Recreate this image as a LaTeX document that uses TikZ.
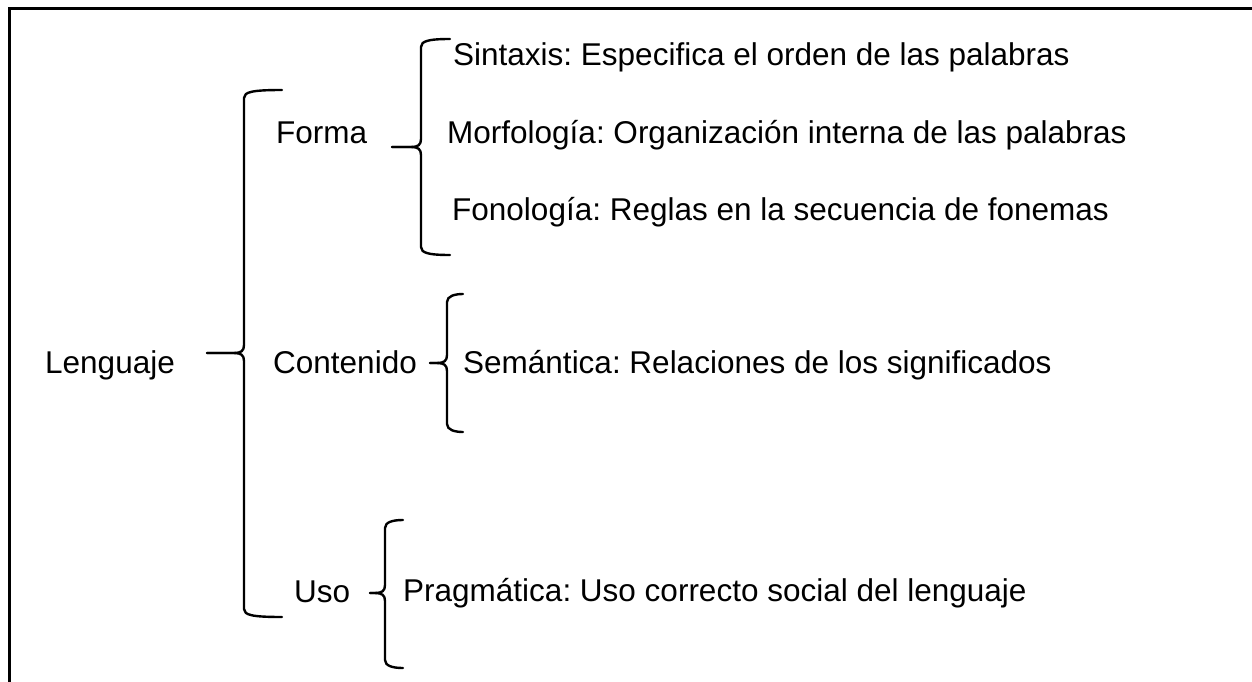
\documentclass[tikz,border=0pt]{standalone}
\usepackage{fontspec}
\setmainfont{Liberation Sans}
\frenchspacing
\tikzset{
  brc/.style={line width=2.4pt, line cap=round, line join=round},
  lbl/.style={anchor=base west, inner sep=0pt, font=\fontsize{31.5}{36}\selectfont},
  frame/.style={line width=3pt}
}
\newcommand\mybrace[7]{% name, x vertical, y top, y mid, y bottom, x tip, x end
  \coordinate (#1) at (#6,#4);
  \draw[brc] (#7,#3) .. controls ({#2+8},#3) and (#2,{#3+2}) .. (#2,{#3+8})
     -- (#2,{#4-8}) .. controls (#2,{#4-2}) and ({#2-3},#4) .. ({#2-10},#4) -- (#1);
  \draw[brc] (#1) -- ({#2-10},#4) .. controls ({#2-3},#4) and (#2,{#4+2}) .. (#2,{#4+8})
     -- (#2,{#5-8}) .. controls (#2,{#5-2}) and ({#2+8},#5) .. (#7,#5);
}
\begin{document}
\begin{tikzpicture}[x=1pt,y=-1pt]
\useasboundingbox (0,0) rectangle (1252,682);
\draw[frame] (9,683) -- (9,9) -- (1253,9);

\node[lbl] (leng) at (45,373) {Lenguaje};
\node[lbl] (forma) at (276,143) {Forma};
\node[lbl] (cont) at (273,373) {Contenido};
\node[lbl] (uso) at (294,602) {Uso};

\node[lbl] (sint) at (453,66) {Sintaxis: Especifica el orden de las palabras};
\node[lbl] (morf) at (447,143) {Morfología: Organización interna de las palabras};
\node[lbl] (fono) at (452,220) {Fonología: Reglas en la secuencia de fonemas};
\node[lbl] (sem) at (463,373) {Semántica: Relaciones de los significados};
\node[lbl] (prag) at (403,601) {Pragmática: Uso correcto social del lenguaje};

\mybrace{b1}{244}{90}{353}{617}{207}{282}
\mybrace{b2}{421}{39}{147}{255}{392}{450}
\mybrace{b3}{447}{294}{363}{432}{430}{463}
\mybrace{b4}{385}{520}{593}{668}{370}{403}
\end{tikzpicture}
\end{document}
